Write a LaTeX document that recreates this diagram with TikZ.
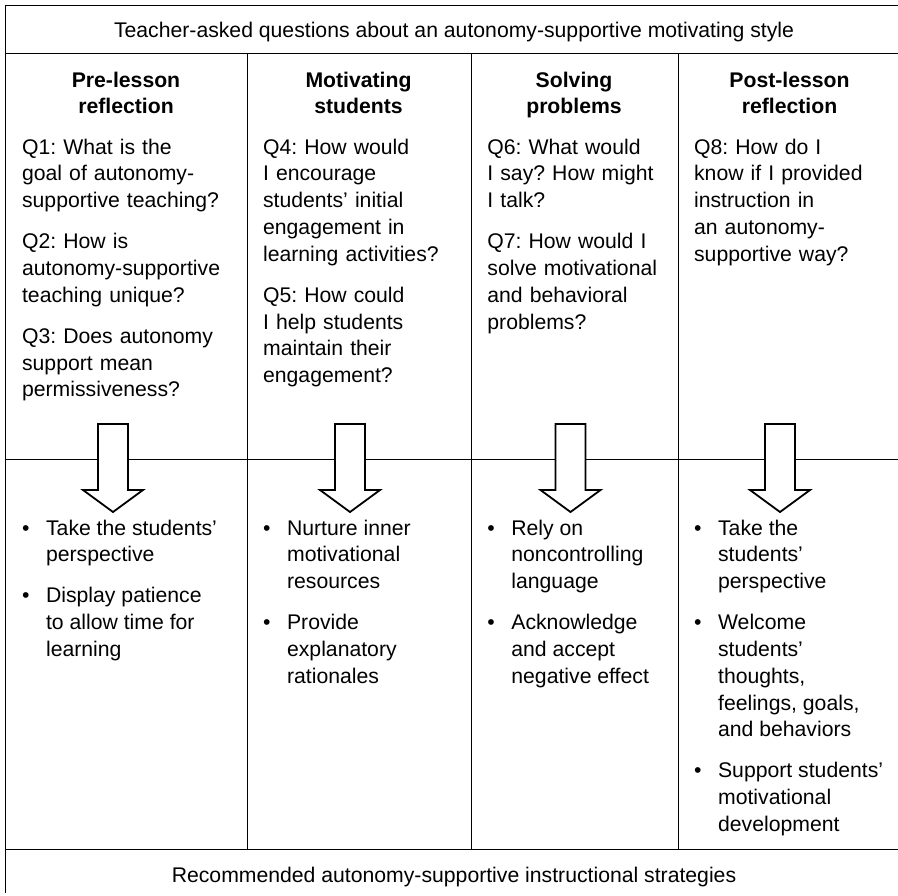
\documentclass[tikz,border=0pt]{standalone}
\usepackage{fontspec}
\setmainfont{Liberation Sans}
\frenchspacing

\begin{document}
\begin{tikzpicture}[x=0.5pt,y=-0.5pt,
    every node/.style={inner sep=0pt,font=\fontsize{10.6pt}{13.4pt}\selectfont},
    rule/.style={line width=0.5pt},
    colhead/.style={anchor=base,align=center,text width=110pt,
        font=\fontsize{10.6pt}{13.4pt}\selectfont\bfseries},
    question/.style={anchor=base west,align=left,text width=110pt},
    strategy/.style={anchor=base west},
    bigarrow/.style={draw,fill=white,line width=0.9pt,line join=miter}]
    \useasboundingbox (0,0) rectangle (898,895);

    % frame and columns
    \draw[rule] (5,893) -- (5,5) -- (898,5);
    \draw[rule] (5,53) -- (898,53);
    \draw[rule] (5,459) -- (898,459);
    \draw[rule] (5,849) -- (898,849);
    \draw[rule] (247,53) -- (247,849);
    \draw[rule] (471,53) -- (471,849);
    \draw[rule] (678,53) -- (678,849);

    \node (title) at (454,37) [anchor=base] {Teacher-asked questions about an autonomy-supportive motivating style};
    \node (footer) at (454,882) [anchor=base] {Recommended autonomy-supportive instructional strategies};

    % column headings
    \node[colhead] (prelesson) at (126,87) {Pre-lesson\\reflection};
    \node[colhead] (motivating) at (358.5,87) {Motivating\\students};
    \node[colhead] (solving) at (574,87) {Solving\\problems};
    \node[colhead] (postlesson) at (789.5,87) {Post-lesson\\reflection};

    % questions
    \node[question] (qpre) at (21.7,154) {Q1: What is the\\goal of autonomy-\\supportive teaching?\\[7.1pt]
        Q2: How is\\autonomy-supportive\\teaching unique?\\[7.1pt]
        Q3: Does autonomy\\support mean\\permissiveness?};
    \node[question] (qmotiv) at (262.7,154) {Q4: How would\\I encourage\\students' initial\\engagement in\\learning activities?\\[7.1pt]
        Q5: How could\\I help students\\maintain their\\engagement?};
    \node[question] (qsolve) at (487,154) {Q6: What would\\I say? How might\\I talk?\\[7.1pt]
        Q7: How would I\\solve motivational\\and behavioral\\problems?};
    \node[question] (qpost) at (693.7,154) {Q8: How do I\\know if I provided\\instruction in\\an autonomy-\\supportive way?};

    % arrows from questions to strategies
    \coordinate (arrpre) at (113,424);
    \coordinate (arrmotiv) at (350,424);
    \coordinate (arrsolve) at (570.5,424);
    \coordinate (arrpost) at (780,424);
    \draw[bigarrow] (arrpre) ++(-15,0) -- ++(0,66) -- ++(-15,0) -- ++(30,22) -- ++(30,-22) -- ++(-15,0) -- ++(0,-66) -- cycle;
    \draw[bigarrow] (arrmotiv) ++(-15,0) -- ++(0,66) -- ++(-15,0) -- ++(30,22) -- ++(30,-22) -- ++(-15,0) -- ++(0,-66) -- cycle;
    \draw[bigarrow] (arrsolve) ++(-15,0) -- ++(0,66) -- ++(-15,0) -- ++(30,22) -- ++(30,-22) -- ++(-15,0) -- ++(0,-66) -- cycle;
    \draw[bigarrow] (arrpost) ++(-15,0) -- ++(0,66) -- ++(-15,0) -- ++(30,22) -- ++(30,-22) -- ++(-15,0) -- ++(0,-66) -- cycle;

    % strategies
    \node[strategy] (spre) at (21.7,535) {\begin{tabular}[t]{@{}p{12pt}@{}l@{}}
        \textbullet & Take the students'\\ & perspective\\[7.1pt]
        \textbullet & Display patience\\ & to allow time for\\ & learning
        \end{tabular}};
    \node[strategy] (smotiv) at (262.7,535) {\begin{tabular}[t]{@{}p{12pt}@{}l@{}}
        \textbullet & Nurture inner\\ & motivational\\ & resources\\[7.1pt]
        \textbullet & Provide\\ & explanatory\\ & rationales
        \end{tabular}};
    \node[strategy] (ssolve) at (487,535) {\begin{tabular}[t]{@{}p{12pt}@{}l@{}}
        \textbullet & Rely on\\ & noncontrolling\\ & language\\[7.1pt]
        \textbullet & Acknowledge\\ & and accept\\ & negative effect
        \end{tabular}};
    \node[strategy] (spost) at (693.7,535) {\begin{tabular}[t]{@{}p{12pt}@{}l@{}}
        \textbullet & Take the\\ & students'\\ & perspective\\[7.1pt]
        \textbullet & Welcome\\ & students'\\ & thoughts,\\ & feelings, goals,\\ & and behaviors\\[7.1pt]
        \textbullet & Support students'\\ & motivational\\ & development
        \end{tabular}};
\end{tikzpicture}
\end{document}
